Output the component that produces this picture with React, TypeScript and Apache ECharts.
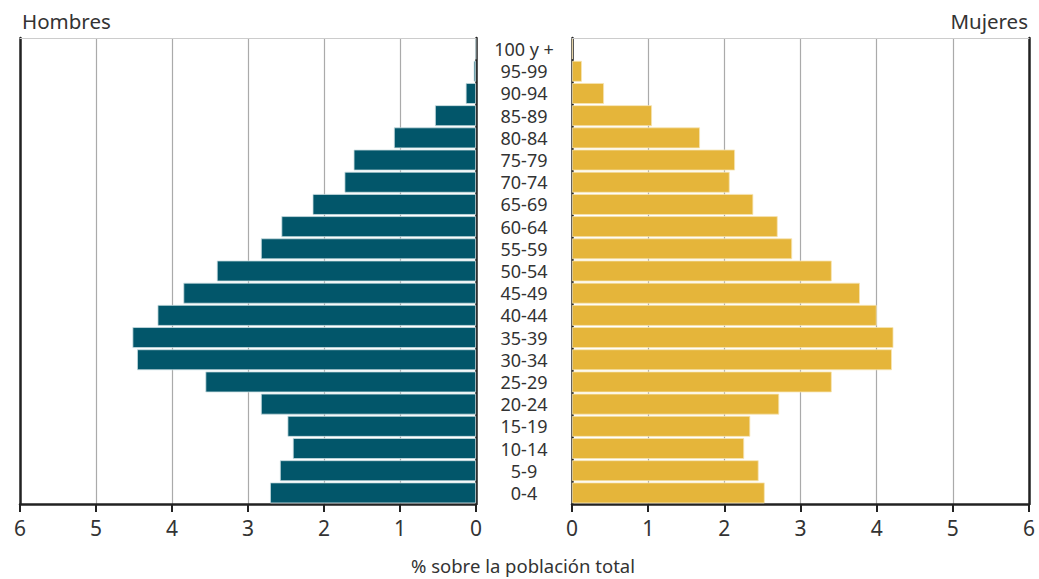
import React, { useEffect, useRef } from "react";
import * as echarts from "echarts";

const categories = ["0-4","5-9","10-14","15-19","20-24","25-29","30-34","35-39","40-44","45-49","50-54","55-59","60-64","65-69","70-74","75-79","80-84","85-89","90-94","95-99","100 y +"];
const hombres = [2.71,2.58,2.41,2.48,2.83,3.56,4.46,4.52,4.19,3.85,3.41,2.83,2.56,2.15,1.73,1.61,1.08,0.54,0.135,0.03,0.005];
const mujeres = [2.53,2.45,2.26,2.34,2.72,3.41,4.20,4.22,4.00,3.78,3.41,2.89,2.70,2.38,2.07,2.14,1.68,1.05,0.42,0.13,0.01];
const axisTitle = "% sobre la población total";

const FONT = "'Noto Sans', 'Open Sans', sans-serif";

export default function App() {
  const ref = useRef<HTMLDivElement>(null);
  useEffect(() => {
    const chart = echarts.init(ref.current!, null, { renderer: "svg" });
    const xCommon = (gridIndex: number, inverse: boolean) => ({
      type: "value" as const,
      gridIndex,
      min: 0,
      max: 6,
      interval: 1,
      inverse,
      axisLine: { show: true, onZero: false, lineStyle: { color: "#222", width: 2.5 } },
      axisTick: { show: true, length: 8, lineStyle: { color: "#222", width: 2 } },
      axisLabel: { fontSize: 21, color: "#333", fontFamily: FONT, margin: 13 },
      splitLine: { show: true, lineStyle: { color: "#aaa", width: 1.2 } },
    });
    const xTop = (gridIndex: number, inverse: boolean) => ({
      type: "value" as const,
      gridIndex,
      position: "top" as const,
      min: 0,
      max: 6,
      inverse,
      axisLine: { show: true, onZero: false, lineStyle: { color: "#ccc", width: 1 } },
      axisTick: { show: false },
      axisLabel: { show: false },
      splitLine: { show: false },
    });
    const yEdge = (gridIndex: number, position: "left" | "right") => ({
      type: "category" as const,
      gridIndex,
      data: categories,
      position,
      axisLine: { show: true, onZero: false, lineStyle: { color: "#222", width: 2.5 } },
      axisTick: { show: false },
      axisLabel: { show: false },
    });
    chart.setOption({
      animation: false,
      grid: [
        { left: 20, width: 456, top: 38, bottom: 75 },
        { left: 572, width: 457, top: 38, bottom: 75 },
      ],
      xAxis: [xCommon(0, true), xCommon(1, false), xTop(0, true), xTop(1, false)],
      yAxis: [
        {
          type: "category",
          gridIndex: 0,
          data: categories,
          position: "right",
          axisLine: { show: true, onZero: false, lineStyle: { color: "#222", width: 2.5 } },
          axisTick: { show: false },
          axisLabel: { interval: 0, fontSize: 18, color: "#333", fontFamily: FONT, align: "center", margin: 48, padding: [4, 0, 0, 0] },
        },
        yEdge(0, "left"),
        yEdge(1, "left"),
        yEdge(1, "right"),
      ],
      series: [
        {
          type: "bar",
          xAxisIndex: 0,
          yAxisIndex: 0,
          data: hombres,
          barCategoryGap: "6%",
          itemStyle: { color: "#02566A", borderColor: "#c9dde1", borderWidth: 0.8 },
        },
        {
          type: "bar",
          xAxisIndex: 1,
          yAxisIndex: 2,
          data: mujeres,
          barCategoryGap: "6%",
          itemStyle: { color: "#E5B53A", borderColor: "#f6e4b4", borderWidth: 0.8 },
        },
      ],
      graphic: [
        { type: "text", left: 22, top: 10, style: { text: "Hombres", fontSize: 20.5, fill: "#333", fontFamily: FONT } },
        { type: "text", right: 11, top: 10, style: { text: "Mujeres", fontSize: 20.5, fill: "#333", fontFamily: FONT } },
        { type: "text", left: 411, top: 556, style: { text: axisTitle, fontSize: 18.5, fill: "#333", fontFamily: FONT } },
      ],
    });
    return () => chart.dispose();
  }, []);
  return <div ref={ref} style={{ position: "fixed", left: 0, top: 0, width: 1039, height: 579, background: "#fff" }} />;
}
